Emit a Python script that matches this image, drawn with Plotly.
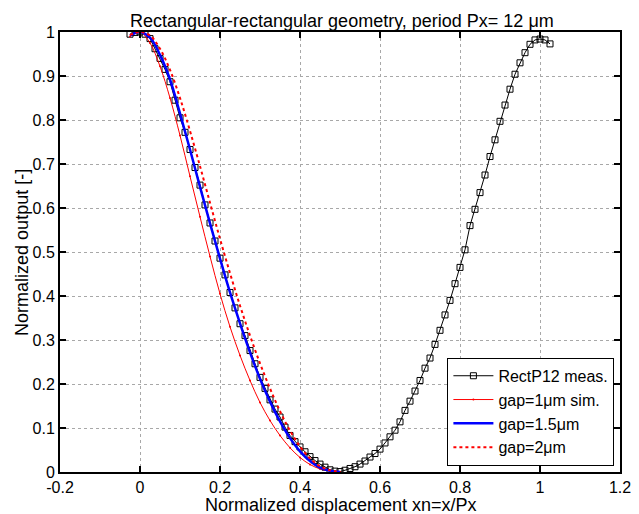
import plotly.graph_objects as go

# Measured data (RectP12 meas.)
meas_x = [-0.025, -0.0125, 0.0, 0.0125, 0.025, 0.0375, 0.05, 0.0625, 0.075, 0.0875,
          0.1, 0.1125, 0.125, 0.1375, 0.15, 0.1625, 0.175, 0.1875, 0.2, 0.2125,
          0.225, 0.2375, 0.25, 0.2625, 0.275, 0.2875, 0.3, 0.3125, 0.325, 0.3375,
          0.35, 0.3625, 0.375, 0.3875, 0.4, 0.4125, 0.425, 0.4375, 0.45, 0.4625,
          0.475, 0.4875, 0.5, 0.5125, 0.525, 0.5375, 0.55, 0.5625, 0.575, 0.5875,
          0.6, 0.6125, 0.625, 0.6375, 0.65, 0.6625, 0.675, 0.6875, 0.7, 0.7125,
          0.725, 0.7375, 0.75, 0.7625, 0.775, 0.7875, 0.8, 0.8125, 0.825, 0.8375,
          0.85, 0.8625, 0.875, 0.8875, 0.9, 0.9125, 0.925, 0.9375, 0.95, 0.9625,
          0.975, 0.9875, 1.0, 1.0125, 1.025]
meas_y = [0.995, 0.999, 1.0, 0.995, 0.985, 0.962, 0.94, 0.915, 0.887, 0.845,
          0.805, 0.772, 0.733, 0.692, 0.652, 0.607, 0.566, 0.525, 0.486, 0.448,
          0.408, 0.373, 0.337, 0.31, 0.276, 0.246, 0.215, 0.19, 0.164, 0.143,
          0.125, 0.102, 0.083, 0.069, 0.057, 0.046, 0.035, 0.026, 0.018, 0.011,
          0.005, 0.002, 0.001, 0.004, 0.008, 0.012, 0.018, 0.025, 0.034, 0.042,
          0.052, 0.066, 0.08, 0.095, 0.114, 0.14, 0.161, 0.184, 0.208, 0.236,
          0.259, 0.29, 0.322, 0.357, 0.39, 0.428, 0.465, 0.505, 0.56, 0.597,
          0.635, 0.675, 0.717, 0.755, 0.797, 0.834, 0.87, 0.904, 0.93, 0.953,
          0.972, 0.982, 0.984, 0.982, 0.973]

# Simulations
sim_x = [-0.025, 0.0, 0.025, 0.05, 0.075, 0.1, 0.125, 0.15, 0.175, 0.2, 0.225,
         0.25, 0.275, 0.3, 0.325, 0.35, 0.375, 0.4, 0.425, 0.45, 0.475, 0.5]
gap1_y = [0.99, 1.0, 0.975, 0.922, 0.85, 0.765, 0.672, 0.58, 0.49, 0.405, 0.33,
          0.265, 0.208, 0.158, 0.117, 0.083, 0.055, 0.033, 0.017, 0.007, 0.002, 0.0]
gap15_y = [0.992, 1.0, 0.987, 0.948, 0.892, 0.815, 0.733, 0.648, 0.565, 0.485, 0.408,
           0.338, 0.272, 0.212, 0.16, 0.115, 0.077, 0.047, 0.025, 0.01, 0.003, 0.0]
gap2_y = [0.993, 1.0, 0.992, 0.962, 0.914, 0.85, 0.775, 0.695, 0.612, 0.53, 0.452,
          0.378, 0.31, 0.247, 0.19, 0.138, 0.094, 0.058, 0.031, 0.013, 0.004, 0.0]

x_ticks = [-0.2, 0, 0.2, 0.4, 0.6, 0.8, 1, 1.2]
x_tick_text = ["-0.2", "0", "0.2", "0.4", "0.6", "0.8", "1", "1.2"]
y_ticks = [0, 0.1, 0.2, 0.3, 0.4, 0.5, 0.6, 0.7, 0.8, 0.9, 1]
y_tick_text = ["0", "0.1", "0.2", "0.3", "0.4", "0.5", "0.6", "0.7", "0.8", "0.9", "1"]

title_text = "Rectangular-rectangular geometry, period Px= 12 μm"
xlabel_text = "Normalized displacement xn=x/Px"
ylabel_text = "Normalized output [-]"

FONT = "Liberation Sans, Arial, sans-serif"

fig = go.Figure()
fig.add_trace(go.Scatter(
    x=meas_x, y=meas_y, mode="lines+markers", name="RectP12 meas.",
    line=dict(color="black", width=1),
    marker=dict(symbol="square-open", size=6, color="black", line=dict(width=1, color="black")),
))
fig.add_trace(go.Scatter(
    x=sim_x, y=gap1_y, mode="lines+markers", name="gap=1μm sim.",
    line=dict(color="red", width=1, shape="spline"),
    marker=dict(symbol="circle", size=2, color="red"),
))
fig.add_trace(go.Scatter(
    x=sim_x, y=gap15_y, mode="lines", name="gap=1.5μm",
    line=dict(color="blue", width=2.5, shape="spline"),
))
fig.add_trace(go.Scatter(
    x=sim_x, y=gap2_y, mode="lines", name="gap=2μm",
    line=dict(color="red", width=2, dash="dot", shape="spline"),
))

axis_common = dict(
    showline=True, linecolor="black", linewidth=2, mirror="allticks",
    ticks="inside", ticklen=6, tickwidth=2, tickcolor="black",
    showgrid=True, gridcolor="#a8a8a8", gridwidth=1, griddash="dot",
    zeroline=False, automargin=False,
    tickfont=dict(family=FONT, size=16, color="black"),
)

fig.update_layout(
    width=639, height=514,
    margin=dict(l=60, r=19, t=32, b=42, autoexpand=False),
    paper_bgcolor="white", plot_bgcolor="white",
    font=dict(family=FONT, size=16, color="black"),
    xaxis=dict(range=[-0.2, 1.2], tickvals=x_ticks, ticktext=x_tick_text,
               **axis_common),
    yaxis=dict(range=[0, 1], tickvals=y_ticks, ticktext=y_tick_text,
               **axis_common),
    legend=dict(x=0.99, y=0.014, xanchor="right", yanchor="bottom",
                bgcolor="white", bordercolor="black", borderwidth=1,
                font=dict(family=FONT, size=16, color="black"),
                tracegroupgap=0, itemwidth=40),
    showlegend=True,
    annotations=[
        dict(text=title_text, xref="paper", yref="paper", x=0.503, y=1.024,
             xanchor="center", yanchor="middle", showarrow=False,
             font=dict(family=FONT, size=18, color="black")),
        dict(text=xlabel_text, xref="paper", yref="paper", x=0.502, y=-0.076,
             xanchor="center", yanchor="middle", showarrow=False,
             font=dict(family=FONT, size=18, color="black")),
        dict(text=ylabel_text, xref="paper", yref="paper", x=-0.068, y=0.5,
             xanchor="center", yanchor="middle", showarrow=False, textangle=-90,
             font=dict(family=FONT, size=18, color="black")),
    ],
)

fig.write_html("out.html", config={"displayModeBar": False},
               post_script="document.body.style.margin='0';document.body.style.padding='0';")
